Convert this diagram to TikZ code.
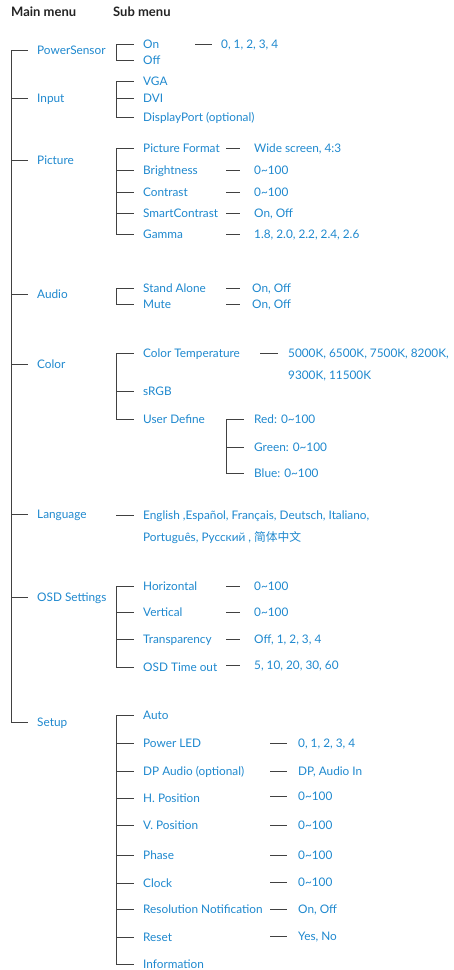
\documentclass[tikz,border=0pt]{standalone}
\usepackage{fontspec}
\setmainfont{Lato}
\newfontfamily\cjk{Noto Sans CJK SC}
\definecolor{txtblue}{RGB}{30,136,206}
\definecolor{lncol}{RGB}{65,65,65}
\definecolor{hdrcol}{RGB}{35,35,35}
\begin{document}
\begin{tikzpicture}[x=1pt,y=-1pt,
 lbl/.style={anchor=west,inner sep=0pt,text height=10pt,text depth=0.5pt,text=txtblue,font=\fontsize{11.8}{13}\selectfont},
 hdr/.style={anchor=west,inner sep=0pt,text height=10pt,text depth=0.5pt,text=hdrcol,font=\bfseries\fontsize{13}{15}\selectfont},
 ln/.style={draw=lncol,line width=0.9pt}]
\useasboundingbox (0,0) rectangle (454,970);
% headers
\node[hdr] (hmain) at (11,12) {Main menu};
\node[hdr] (hsub) at (113,12) {Sub menu};
% main items
\node[lbl] (ps) at (37,50) {PowerSensor};
\node[lbl] (inp) at (37,98) {Input};
\node[lbl] (pic) at (37,160) {Picture};
\node[lbl] (aud) at (37,294) {Audio};
\node[lbl] (col) at (37,364) {Color};
\node[lbl] (lang) at (37,514) {Language};
\node[lbl] (osd) at (37,597) {OSD Settings};
\node[lbl] (setup) at (37,722) {Setup};
\coordinate (mspine) at (11,0);
\draw[ln] (mspine |- ps.west) -- (mspine |- setup.west);
\foreach \n in {ps,inp,pic,aud,col,lang,osd,setup}
  \draw[ln] (mspine |- \n.west) -- ([xshift=-9pt]\n.west);
\coordinate (sspine) at (116,0);
% PowerSensor
\node[lbl] (on) at (143,44) {On};
\node[lbl] (off) at (143,60) {Off};
\node[lbl] (onv) at (221,44) {0, 1, 2, 3, 4};
\draw[ln] (sspine |- on.west) -- (sspine |- off.west);
\foreach \n in {on,off} \draw[ln] (sspine |- \n.west) -- ([xshift=-9pt]\n.west);
\draw[ln] ([xshift=-26pt]onv.west) -- ([xshift=-9pt]onv.west);
% Input
\node[lbl] (vga) at (143,81) {VGA};
\node[lbl] (dvi) at (143,98) {DVI};
\node[lbl] (dp) at (143,117) {DisplayPort (optional)};
\draw[ln] (sspine |- vga.west) -- (sspine |- dp.west);
\foreach \n in {vga,dvi,dp} \draw[ln] (sspine |- \n.west) -- ([xshift=-9pt]\n.west);
% Picture
\node[lbl] (pf) at (143,148) {Picture Format};
\node[lbl] (br) at (143,170) {Brightness};
\node[lbl] (co) at (143,192) {Contrast};
\node[lbl] (sc) at (143,213) {SmartContrast};
\node[lbl] (ga) at (143,234) {Gamma};
\node[lbl] (pfv) at (254,148) {Wide screen, 4:3};
\node[lbl] (brv) at (254,170) {0\textasciitilde100};
\node[lbl] (cov) at (254,192) {0\textasciitilde100};
\node[lbl] (scv) at (254,213) {On, Off};
\node[lbl] (gav) at (254,234) {1.8, 2.0, 2.2, 2.4, 2.6};
\draw[ln] (sspine |- pf.west) -- (sspine |- ga.west);
\foreach \n in {pf,br,co,sc,ga} {
  \draw[ln] (sspine |- \n.west) -- ([xshift=-9pt]\n.west);
  \draw[ln] ([xshift=-28pt]\n v.west) -- ([xshift=-14pt]\n v.west);
}
% Audio
\node[lbl] (sa) at (143,288) {Stand Alone};
\node[lbl] (mu) at (143,304) {Mute};
\node[lbl] (sav) at (252,288) {On, Off};
\node[lbl] (muv) at (252,304) {On, Off};
\draw[ln] (sspine |- sa.west) -- (sspine |- mu.west);
\foreach \n in {sa,mu} {
  \draw[ln] (sspine |- \n.west) -- ([xshift=-9pt]\n.west);
  \draw[ln] ([xshift=-26pt]\n v.west) -- ([xshift=-12pt]\n v.west);
}
% Color
\node[lbl] (ct) at (143,353) {Color Temperature};
\node[lbl] (srgb) at (143,391) {sRGB};
\node[lbl] (ud) at (143,419) {User Define};
\node[lbl] (ctv) at (288,353) {5000K, 6500K, 7500K, 8200K,};
\node[lbl] (ctw) at (288,375) {9300K, 11500K};
\draw[ln] (sspine |- ct.west) -- (sspine |- ud.west);
\foreach \n in {ct,srgb,ud} \draw[ln] (sspine |- \n.west) -- ([xshift=-9pt]\n.west);
\draw[ln] ([xshift=-28pt]ctv.west) -- ([xshift=-10pt]ctv.west);
\coordinate (uspine) at (226,0);
\node[lbl] (red) at (254,419) {Red: 0\textasciitilde100};
\node[lbl] (grn) at (254,447) {Green: 0\textasciitilde100};
\node[lbl] (blu) at (254,473) {Blue: 0\textasciitilde100};
\draw[ln] (uspine |- red.west) -- (uspine |- blu.west);
\foreach \n in {red,grn,blu} \draw[ln] (uspine |- \n.west) -- ([xshift=-10pt]\n.west);
% Language
\node[lbl] (l1) at (143,515) {English ,Español, Français, Deutsch, Italiano,};
\node[lbl] (l2) at (143,537) {Português, Русский , {\cjk 简体中文}};
\draw[ln] (sspine |- l1.west) -- ([xshift=-9pt]l1.west);
% OSD
\node[lbl] (hz) at (143,586) {Horizontal};
\node[lbl] (vt) at (143,612) {Vertical};
\node[lbl] (tr) at (143,639) {Transparency};
\node[lbl] (to) at (143,667) {OSD Time out};
\node[lbl] (hzv) at (254,586) {0\textasciitilde100};
\node[lbl] (vtv) at (254,612) {0\textasciitilde100};
\node[lbl] (trv) at (254,639) {Off, 1, 2, 3, 4};
\node[lbl] (tov) at (254,665) {5, 10, 20, 30, 60};
\draw[ln] (sspine |- hz.west) -- (sspine |- to.west);
\foreach \n in {hz,vt,tr,to} {
  \draw[ln] (sspine |- \n.west) -- ([xshift=-9pt]\n.west);
  \draw[ln] ([xshift=-28pt]\n v.west) -- ([xshift=-14pt]\n v.west);
}
% Setup
\node[lbl] (au) at (143,715) {Auto};
\node[lbl] (pl) at (143,743) {Power LED};
\node[lbl] (da) at (143,771) {DP Audio (optional)};
\node[lbl] (hp) at (143,798) {H. Position};
\node[lbl] (vp) at (143,825) {V. Position};
\node[lbl] (ph) at (143,855) {Phase};
\node[lbl] (cl) at (143,883) {Clock};
\node[lbl] (rn) at (143,909) {Resolution Notification};
\node[lbl] (rs) at (143,937) {Reset};
\node[lbl] (inf) at (143,964) {Information};
\node[lbl] (plv) at (298,743) {0, 1, 2, 3, 4};
\node[lbl] (dav) at (298,771) {DP, Audio In};
\node[lbl] (hpv) at (298,796) {0\textasciitilde100};
\node[lbl] (vpv) at (298,825) {0\textasciitilde100};
\node[lbl] (phv) at (298,855) {0\textasciitilde100};
\node[lbl] (clv) at (298,882) {0\textasciitilde100};
\node[lbl] (rnv) at (298,909) {On, Off};
\node[lbl] (rsv) at (298,936) {Yes, No};
\draw[ln] (sspine |- au.west) -- (sspine |- inf.west);
\foreach \n in {au,pl,da,hp,vp,ph,cl,rn,rs,inf} \draw[ln] (sspine |- \n.west) -- ([xshift=-9pt]\n.west);
\foreach \n in {pl,da,hp,vp,ph,cl,rn,rs}
  \draw[ln] ([xshift=-28pt]\n v.west) -- ([xshift=-11pt]\n v.west);
\end{tikzpicture}
\end{document}
